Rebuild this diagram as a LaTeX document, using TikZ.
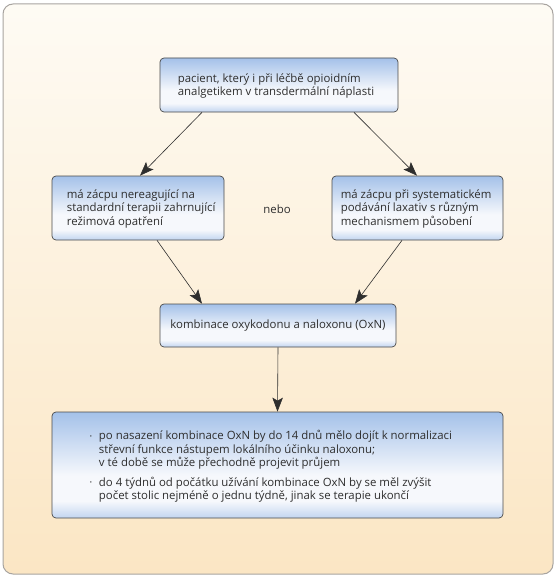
\documentclass[tikz,border=0pt]{standalone}
\usepackage{fontspec}
\setmainfont{Open Sans}
\usetikzlibrary{arrows.meta,calc}
\definecolor{txt}{HTML}{2E2E2E}
\definecolor{outtop}{HTML}{FEFBF4}
\definecolor{outbot}{HTML}{FBE6C4}
\definecolor{outline}{HTML}{A8A4A0}
\definecolor{boxline}{HTML}{4A4A4A}
\definecolor{bluetop}{HTML}{A4C1E9}
\definecolor{bluebot}{HTML}{C2D5F0}
\definecolor{bluemid}{HTML}{F6F8FC}
\pgfdeclareverticalshading{boxshade}{100bp}{color(0bp)=(bluebot); color(25bp)=(bluebot); color(33bp)=(bluemid); color(45bp)=(bluemid); color(75bp)=(bluetop); color(100bp)=(bluetop)}
\tikzset{
  box/.style={draw=boxline, line width=0.7pt, rounded corners=4pt, shading=boxshade, inner sep=0pt},
  txtnode/.style={text=txt, font=\fontsize{11.4}{13.5}\selectfont, align=left, inner sep=0pt},
  arr/.style={draw=txt, line width=0.6pt, -{Stealth[length=14pt,width=10.5pt,inset=3pt]}}
}
\begin{document}
\begin{tikzpicture}[x=1pt,y=-1pt]
\useasboundingbox (0,0) rectangle (557,578);
\path[draw=outline, line width=1pt, rounded corners=10pt, top color=outtop, bottom color=outbot] (3,4) rectangle (553,574);
\node[box, minimum width=238pt, minimum height=54pt] (top) at (279,85) {};
\node[box, minimum width=172pt, minimum height=64pt] (left) at (138,208) {};
\node[box, minimum width=171pt, minimum height=64pt] (right) at (417.5,208) {};
\node[box, minimum width=236pt, minimum height=43pt, txtnode] (mid) at (278,325.5) {kombinace oxykodonu a naloxonu (OxN)};
\node[box, minimum width=451pt, minimum height=106pt] (bot) at (277.5,465) {};
\node[txtnode, anchor=west] (toptxt) at ([xshift=18pt,yshift=-1pt]top.west) {pacient, který i při léčbě opioidním\\analgetikem v transdermální náplasti};
\node[txtnode, anchor=west] (lefttxt) at ([xshift=15pt,yshift=-1pt]left.west) {má zácpu nereagující na\\standardní terapii zahrnující\\režimová opatření};
\node[txtnode, anchor=west] (righttxt) at ([xshift=9pt,yshift=-1pt]right.west) {má zácpu při systematickém\\podávání laxativ s různým\\mechanismem působení};
\node[txtnode] (nebo) at (277,209) {nebo};
\node[txtnode, anchor=west] (bottxt) at ([xshift=38pt,yshift=-2pt]bot.west) {%
\begin{tabular}{@{}l@{\hspace{7pt}}l@{}}
\raisebox{1.5pt}{\scalebox{0.5}{\textbullet}} & po nasazení kombinace OxN by do 14 dnů mělo dojít k normalizaci\\
 & střevní funkce nástupem lokálního účinku naloxonu;\\
 & v té době se může přechodně projevit průjem\\[6pt]
\raisebox{1.5pt}{\scalebox{0.5}{\textbullet}} & do 4 týdnů od počátku užívání kombinace OxN by se měl zvýšit\\
 & počet stolic nejméně o jednu týdně, jinak se terapie ukončí
\end{tabular}};
\draw[arr] ([xshift=-77pt]top.south) -- ([xshift=2pt]left.north);
\draw[arr] ([xshift=75pt]top.south) -- ([xshift=-0.5pt]right.north);
\draw[arr] ([xshift=19pt]left.south) -- ([xshift=-76pt]mid.north);
\draw[arr] ([xshift=-15.5pt]right.south) -- ([xshift=77pt]mid.north);
\draw[arr] (mid.south) -- (bot.north);
\end{tikzpicture}
\end{document}
